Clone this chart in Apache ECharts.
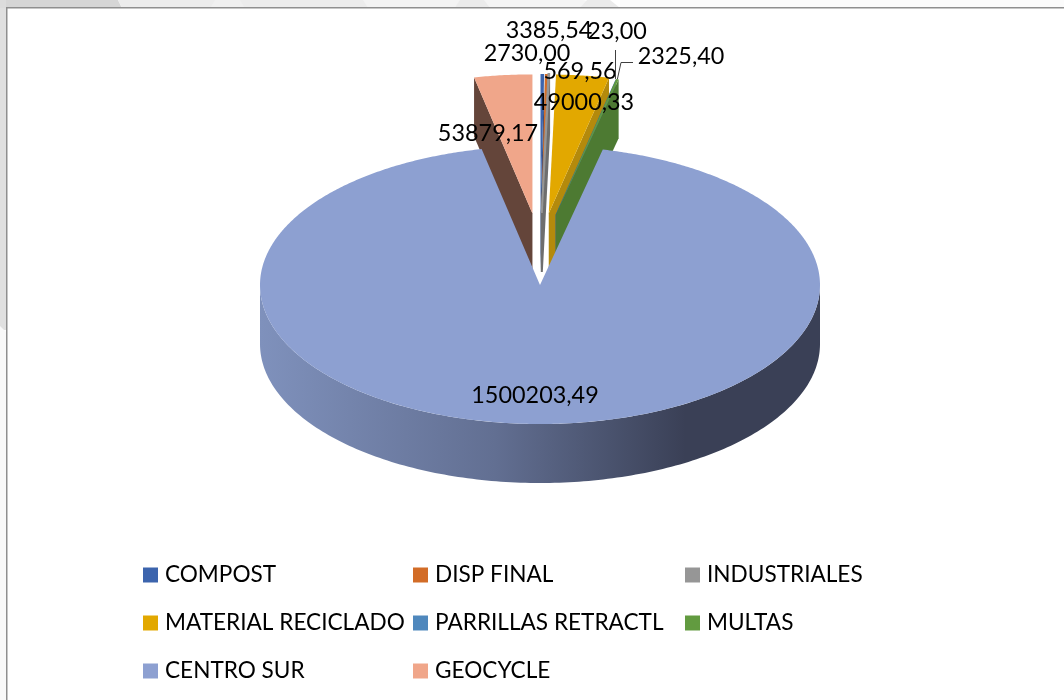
<!DOCTYPE html>
<html>
<head>
<meta charset="utf-8">
<style>html,body{margin:0;padding:0;background:#fff}#c{width:1064px;height:700px}</style>
<script src="https://cdn.jsdelivr.net/npm/echarts@6/dist/echarts.min.js"></script>
</head>
<body>
<div id="c"></div>
<script>
// ---- data ----
var categories = ['COMPOST','DISP FINAL','INDUSTRIALES','MATERIAL RECICLADO','PARRILLAS RETRACTL','MULTAS','CENTRO SUR','GEOCYCLE'];
var values = [3385.54, 2730.00, 569.56, 49000.33, 23.00, 2325.40, 1500203.49, 53879.17];
var topColors = ['#3c64ad','#d26c27','#969696','#e2a800','#4f88bd','#629b40','#8da0d1','#f0a68a'];
var sideColors = ['#2b4a82','#9b4f1c','#6e6e6e','#b48a0c','#3a6690','#4d7a32','#7d8fba','#64453a'];
var explode = [72,72,72,72,72,72,0,72];
var sliverStroke = [0,0,2,0,0,0,0,0];

// ---- label placement (centres, px) ----
var labelCentres = [[549,30],[527,53],[580,71],[584,102],[617,31],[681,56],[535,395],[488,133]];
var legendColumns = [[0,3,6],[1,4,7],[2,5]];
var legendLefts = [143,413,685];

// ---- pie geometry ----
var CX = 540, CY = 285, RX = 280, RY = 139, DEPTH = 59;
var FONT = 'Lato';
var total = values.reduce(function(a,b){return a+b;},0);
var starts = [], acc = 0;
values.forEach(function(v){ starts.push(acc/total*360); acc += v; });
function rad(d){ return d*Math.PI/180; }
function centreOf(i){
  var mid = rad(starts[i] + values[i]/total*180);
  return [CX + explode[i]*Math.sin(mid), CY - explode[i]*Math.cos(mid)];
}
function rimPoint(c, deg){
  return [c[0] + RX*Math.sin(rad(deg)), c[1] - RY*Math.cos(rad(deg))];
}
function arc(c, a0, a1, step){
  var out = [], n = Math.max(1, Math.ceil((a1-a0)/step));
  for (var k=0;k<=n;k++) out.push(rimPoint(c, a0+(a1-a0)*k/n));
  return out;
}
function down(p){ return [p[0], p[1]+DEPTH]; }

function sliceRenderer(i){
  return function(params, api){
    var sweep = api.value(0)/total*360;
    var a0 = starts[i], a1 = a0 + sweep;
    var c = centreOf(i);
    var children = [];
    var topPts = [c].concat(arc(c, a0, a1, 0.5));
    if (sweep > 180){
      // large slice: the outer wall along the near half of the ellipse
      var rim = arc(c, 90, 270, 1);
      children.push({type:'polygon',shape:{points:rim.concat(rim.map(down).reverse())},
        style:{fill:new echarts.graphic.LinearGradient(0,0,1,0,[
          {offset:0,color:'#7f91bc'},{offset:0.42,color:'#626f92'},{offset:0.76,color:'#3a4056'},{offset:1,color:'#3a4056'}])}});
    } else {
      // wedge: the cut face turned towards the viewer
      var edge = a1 <= 90 ? rimPoint(c, a1) : rimPoint(c, a0);
      children.push({type:'polygon',shape:{points:[c,edge,down(edge),down(c)]},
        style:{fill:sideColors[i],stroke:sliverStroke[i]?sideColors[i]:null,lineWidth:sliverStroke[i]}});
    }
    children.push({type:'polygon',shape:{points:topPts},
      style:{fill:topColors[i],stroke:sliverStroke[i]?topColors[i]:null,lineWidth:sliverStroke[i]}});
    return {type:'group',children:children};
  };
}

function labelText(v){ return v.toFixed(2).replace('.',','); }

function renderLabel(params, api){
  var i = params.dataIndex, v = api.value(0);
  var kids = [{type:'text',x:labelCentres[i][0],y:labelCentres[i][1],
    style:{text:labelText(v),fontFamily:FONT,fontSize:23.4,fill:'#000',align:'center',verticalAlign:'middle'}}];
  if (i === 4){
    var e4 = rimPoint(centreOf(4), starts[4]);
    kids.push({type:'polyline',shape:{points:[[615.5,50],[615.5,e4[1]]]},style:{stroke:'#404040',lineWidth:1,fill:null}});
  }
  if (i === 5){
    var e5 = rimPoint(centreOf(5), starts[5]+values[5]/total*180);
    kids.push({type:'polyline',shape:{points:[[633,62.5],[621,62.5],e5]},style:{stroke:'#404040',lineWidth:1,fill:null}});
  }
  return {type:'group',children:kids};
}

var series = categories.map(function(name,i){
  return {type:'custom',name:name,coordinateSystem:'none',silent:true,clip:false,animation:false,
    z: i===6 ? 4 : 2 + i*0.01,
    itemStyle:{color:topColors[i]},
    data:[[values[i]]],renderItem:sliceRenderer(i)};
});
series.push({type:'custom',name:'labels',coordinateSystem:'none',silent:true,clip:false,animation:false,z:8,
  data:values.map(function(v){return [v];}),renderItem:renderLabel});

var legends = legendColumns.map(function(col,k){
  return {orient:'vertical',left:legendLefts[k],top:563,padding:0,icon:'rect',itemWidth:15,itemHeight:15,itemGap:24,
    selectedMode:false,data:col.map(function(i){return categories[i];}),
    textStyle:{fontFamily:FONT,fontSize:22.6,color:'#000',lineHeight:24,padding:[0,0,0,2]}};
});

var bg = [
  {type:'rect',shape:{x:0,y:0,width:1064,height:8},style:{fill:'#ffffff'}},
  {type:'polygon',shape:{points:[[620,0],[1064,0],[1064,8],[620,8]]},style:{fill:'#fbfbfb'}},
  {type:'polygon',shape:{points:[[455,0],[583,0],[620,8],[455,8]]},style:{fill:'#f4f4f4'}},
  {type:'polygon',shape:{points:[[0,0],[118,0],[122,8],[0,8]]},style:{fill:'#d6d6d6'}},
  {type:'polygon',shape:{points:[[118,0],[460,0],[455,8],[122,8]]},style:{fill:'#ececec'}},
  {type:'polygon',shape:{points:[[210,8],[215,0],[240,0],[245,8]]},style:{fill:'#f0f0f0'}},
  {type:'polygon',shape:{points:[[363,0],[460,0],[455,8],[368,8]]},style:{fill:'#f3f3f3'}},
  {type:'polygon',shape:{points:[[460,0],[484,0],[490,8],[455,8]]},style:{fill:'#ebebeb'}},
  {type:'polygon',shape:{points:[[587,0],[610,0],[620,8],[580,8]]},style:{fill:'#ebebeb'}},
  {type:'rect',shape:{x:0,y:0,width:6,height:330},style:{fill:'#e0e0e0'}},
  {type:'polygon',shape:{points:[[0,326],[6,332],[6,700],[0,700]]},style:{fill:'#f9f9f9'}},
  {type:'rect',shape:{x:0,y:0,width:6,height:8},style:{fill:'#dcdcdc'}},
  {type:'rect',shape:{x:6,y:7,width:1058,height:1.5},style:{fill:'#8f8f8f'}},
  {type:'rect',shape:{x:6,y:7,width:1.5,height:693},style:{fill:'#8f8f8f'}}
];

var chart = echarts.init(document.getElementById('c'),null,{renderer:'canvas'});
chart.setOption({animation:false,backgroundColor:'#fff',legend:legends,series:series,graphic:{elements:bg}});
</script>
</body>
</html>
